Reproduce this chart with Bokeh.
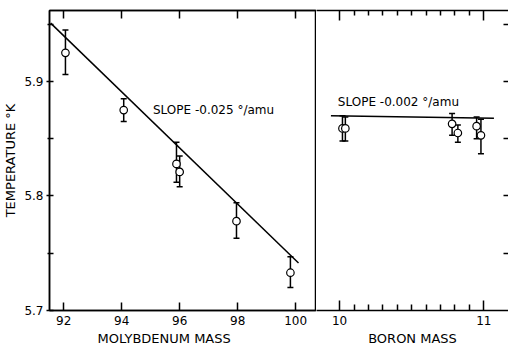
from bokeh.plotting import figure
from bokeh.layouts import row
from bokeh.models import Range1d, FixedTicker, LinearAxis, Title, Label, CustomLabelingPolicy
from bokeh.embed import file_html
from bokeh.resources import INLINE

# ---- data ----
mo_mass = [92.06, 94.07, 95.89, 96.00, 97.96, 99.82]
mo_temp = [5.925, 5.875, 5.828, 5.821, 5.778, 5.733]
mo_upper = [5.945, 5.885, 5.847, 5.835, 5.794, 5.747]
mo_lower = [5.906, 5.865, 5.812, 5.808, 5.763, 5.720]
mo_fit_x = [91.55, 100.10]
mo_fit_y = [5.951, 5.7415]

b_mass = [10.02, 10.04, 10.78, 10.82, 10.95, 10.98]
b_temp = [5.859, 5.859, 5.863, 5.855, 5.861, 5.853]
b_upper = [5.870, 5.869, 5.872, 5.862, 5.869, 5.867]
b_lower = [5.848, 5.848, 5.853, 5.847, 5.850, 5.837]
b_fit_x = [9.94, 11.07]
b_fit_y = [5.870, 5.868]

mo_ticks = [92, 94, 96, 98, 100]
b_ticks = [10, 11]
b_minor = [10.1, 10.2, 10.3, 10.4, 10.5, 10.6, 10.7, 10.8, 10.9]
y_ticks = [5.7, 5.8, 5.9]
y_minor = [5.75, 5.85, 5.95]
right_y_ticks = [5.75, 5.8, 5.85, 5.9, 5.95]

FONT = "DejaVu Sans"
INK = "black"
LW = 1.5

y_range = Range1d(5.7, 5.962)


def hide_labels(ax):
    ax.major_label_policy = CustomLabelingPolicy(code="return new Set()")
    ax.major_label_text_font_size = "0px"
    ax.major_label_standoff = 0
    ax.axis_label = None


# ---------------- left panel ----------------
p1 = figure(width=316, height=351, x_range=Range1d(91.51, 100.72), y_range=y_range,
            output_backend="svg", toolbar_location=None,
            min_border_left=49, min_border_right=0, min_border_top=10, min_border_bottom=41)
p1.grid.visible = False
p1.outline_line_color = INK
p1.outline_line_width = LW
p1.background_fill_color = "white"
p1.border_fill_color = "white"

xa = p1.xaxis[0]
xa.ticker = FixedTicker(ticks=mo_ticks, minor_ticks=[])
xa.major_tick_in = 8
xa.major_tick_out = 0
xa.axis_line_width = LW
xa.axis_line_color = INK
xa.major_tick_line_width = LW
xa.major_tick_line_color = INK
xa.major_label_text_font = FONT
xa.major_label_text_font_size = "12px"
xa.major_label_text_color = INK
xa.major_label_standoff = 5

ya = p1.yaxis[0]
ya.ticker = FixedTicker(ticks=y_ticks, minor_ticks=y_minor)
ya.major_tick_in = 4
ya.major_tick_out = 3
ya.minor_tick_in = 4
ya.minor_tick_out = 2
ya.axis_line_width = LW
ya.axis_line_color = INK
ya.major_tick_line_width = LW
ya.minor_tick_line_width = LW
ya.major_tick_line_color = INK
ya.minor_tick_line_color = INK
ya.major_label_text_font = FONT
ya.major_label_text_font_size = "12px"
ya.major_label_text_color = INK
ya.major_label_standoff = 3
ya.axis_label = "TEMPERATURE °K"
ya.axis_label_text_font = FONT
ya.axis_label_text_font_size = "13px"
ya.axis_label_text_font_style = "normal"
ya.axis_label_text_color = INK
ya.axis_label_standoff = 3

top1 = LinearAxis(ticker=FixedTicker(ticks=mo_ticks, minor_ticks=[]))
top1.major_tick_in = 8
top1.major_tick_out = 0
top1.major_tick_line_width = LW
top1.major_tick_line_color = INK
top1.axis_line_width = LW
top1.axis_line_color = INK
hide_labels(top1)
p1.add_layout(top1, "above")

p1.add_layout(Title(text="MOLYBDENUM MASS", align="left", offset=48,
                    text_font=FONT, text_font_size="13px", text_font_style="normal",
                    text_color=INK, standoff=2), "below")

p1.line(mo_fit_x, mo_fit_y, line_color=INK, line_width=LW)
p1.segment(x0=mo_mass, y0=mo_lower, x1=mo_mass, y1=mo_upper, line_color=INK, line_width=LW)
p1.scatter(mo_mass, mo_upper, marker="dash", size=6, line_color=INK, line_width=LW)
p1.scatter(mo_mass, mo_lower, marker="dash", size=6, line_color=INK, line_width=LW)
p1.scatter(mo_mass, mo_temp, size=7.5, fill_color="white", line_color=INK, line_width=1.2)

p1.add_layout(Label(x=95.08, y=5.875, text="SLOPE -0.025 °/amu", text_baseline="middle",
                    text_font=FONT, text_font_size="12px", text_color=INK))

# ---------------- right panel ----------------
p2 = figure(width=192, height=351, x_range=Range1d(9.84, 11.171), y_range=y_range,
            output_backend="svg", toolbar_location=None, y_axis_location="right",
            min_border_left=0, min_border_right=0, min_border_top=10, min_border_bottom=41)
p2.grid.visible = False
p2.outline_line_color = None
p2.background_fill_color = "white"
p2.border_fill_color = "white"

xb = p2.xaxis[0]
xb.ticker = FixedTicker(ticks=b_ticks, minor_ticks=b_minor)
xb.major_tick_in = 10
xb.major_tick_out = 0
xb.minor_tick_in = 6
xb.minor_tick_out = 0
xb.axis_line_width = LW
xb.axis_line_color = INK
xb.major_tick_line_width = LW
xb.minor_tick_line_width = LW
xb.major_tick_line_color = INK
xb.minor_tick_line_color = INK
xb.major_label_text_font = FONT
xb.major_label_text_font_size = "12px"
xb.major_label_text_color = INK
xb.major_label_standoff = 5

yb = p2.yaxis[0]
yb.ticker = FixedTicker(ticks=right_y_ticks, minor_ticks=[])
yb.major_tick_in = 5
yb.major_tick_out = 0
yb.major_tick_line_width = LW
yb.major_tick_line_color = INK
yb.axis_line_color = None
hide_labels(yb)

top2 = LinearAxis(ticker=FixedTicker(ticks=b_ticks, minor_ticks=b_minor))
top2.major_tick_in = 10
top2.major_tick_out = 0
top2.minor_tick_in = 5
top2.minor_tick_out = 0
top2.major_tick_line_width = LW
top2.minor_tick_line_width = LW
top2.major_tick_line_color = INK
top2.minor_tick_line_color = INK
top2.axis_line_width = LW
top2.axis_line_color = INK
hide_labels(top2)
p2.add_layout(top2, "above")

p2.add_layout(Title(text="BORON MASS", align="center",
                    text_font=FONT, text_font_size="13px", text_font_style="normal",
                    text_color=INK, standoff=2), "below")

p2.line(b_fit_x, b_fit_y, line_color=INK, line_width=LW)
p2.segment(x0=b_mass, y0=b_lower, x1=b_mass, y1=b_upper, line_color=INK, line_width=LW)
p2.scatter(b_mass, b_upper, marker="dash", size=6, line_color=INK, line_width=LW)
p2.scatter(b_mass, b_lower, marker="dash", size=6, line_color=INK, line_width=LW)
p2.scatter(b_mass, b_temp, size=7.5, fill_color="white", line_color=INK, line_width=1.2)

p2.add_layout(Label(x=9.988, y=5.882, text="SLOPE -0.002 °/amu", text_baseline="middle",
                    text_font=FONT, text_font_size="12px", text_color=INK))

layout = row(p1, p2)
open("out.html", "w").write(file_html(layout, INLINE))
